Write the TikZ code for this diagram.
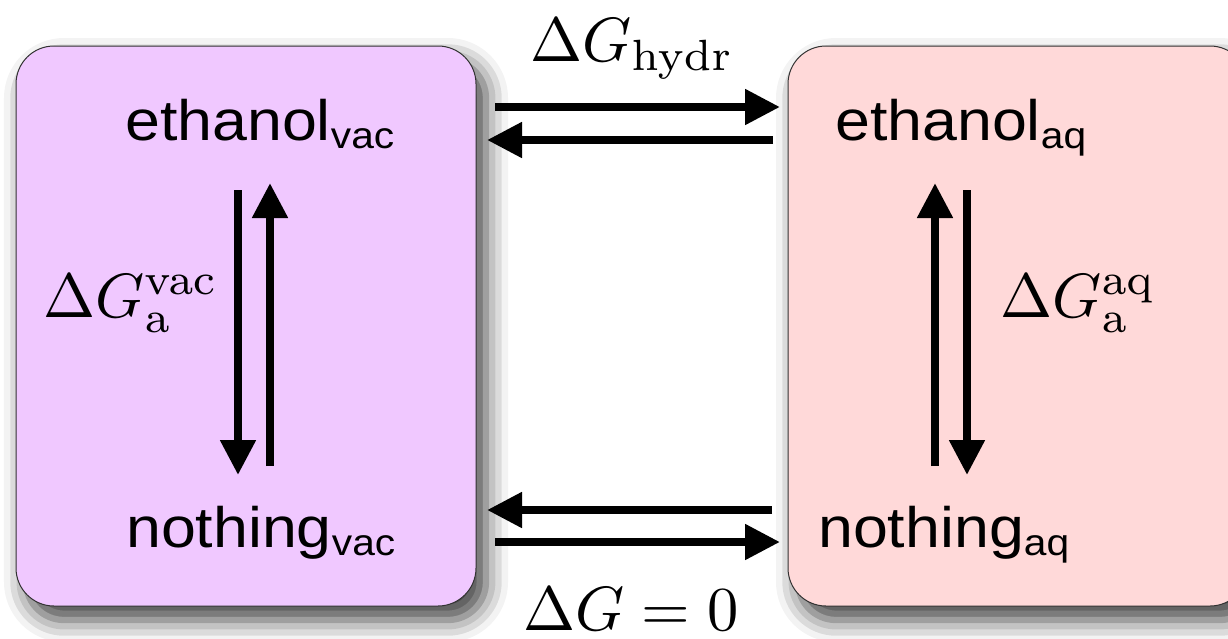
\documentclass[tikz,border=0pt]{standalone}
\usepackage[no-math]{fontspec}
\newfontfamily\lsans{Liberation Sans}
\usetikzlibrary{arrows.meta,shadows.blur}
\definecolor{vacfill}{RGB}{240,200,255}
\definecolor{aqfill}{RGB}{255,217,217}
\definecolor{boxline}{RGB}{50,50,50}
\newcommand\lowsub[1]{\raisebox{-8pt}{\fontsize{37}{40}\selectfont #1}}
\newcommand\widetext[1]{\scalebox{1.1}[1]{#1}}
\newcommand\bigmath[1]{\scalebox{6.25}{$#1$}}
\begin{document}
\begin{tikzpicture}[x=1pt,y=-1pt,
  panel/.style={draw=boxline, line width=1pt, rounded corners=38pt,
    minimum width=460pt, minimum height=560pt, inner sep=0pt,
    blur shadow={shadow xshift=10pt, shadow yshift=-14pt, shadow blur radius=22pt, shadow opacity=75}},
  lbl/.style={inner sep=0pt, anchor=base west, font=\lsans\fontsize{57}{60}\selectfont},
  mlbl/.style={inner sep=0pt, anchor=base west},
  arr/.style={line width=8pt, -{Triangle[length=35pt,width=34pt]}}]
\useasboundingbox (0,0) rectangle (1228,638);
\clip (0,0) rectangle (1228,638);
\node[panel, fill=vacfill] (L) at (246,326) {};
\node[panel, fill=aqfill] (R) at (1018,326) {};
% labels
\node[lbl] (ev) at (125,140) {\widetext{ethanol\lowsub{vac}}};
\node[lbl] (nv) at (126,547) {\widetext{nothing\lowsub{vac}}};
\node[lbl] (ea) at (835,140) {\widetext{ethanol\lowsub{aq}}};
\node[lbl] (na) at (818,547) {\widetext{nothing\lowsub{aq}}};
\node[mlbl] (gh) at (530,61) {\bigmath{\Delta G_{\mathrm{hydr}}}};
\node[mlbl] (gv) at (43,317) {\bigmath{\Delta G_{\mathrm{a}}^{\mathrm{vac}}}};
\node[mlbl] (ga) at (1000,317) {\bigmath{\Delta G_{\mathrm{a}}^{\mathrm{aq}}}};
\node[mlbl] (g0) at (523,630) {\bigmath{\Delta G=0}};
% arrow end points
\coordinate (t1s) at (495,107); \coordinate (t1e) at (780,107);
\coordinate (t2s) at (773,140); \coordinate (t2e) at (487,140);
\coordinate (b1s) at (772,510); \coordinate (b1e) at (487,510);
\coordinate (b2s) at (495,542); \coordinate (b2e) at (780,542);
\coordinate (l1s) at (238,190); \coordinate (l1e) at (238,475);
\coordinate (l2s) at (270,466); \coordinate (l2e) at (270,183);
\coordinate (r1s) at (935,466); \coordinate (r1e) at (935,183);
\coordinate (r2s) at (967,190); \coordinate (r2e) at (967,475);
\draw[arr] (t1s) -- (t1e);
\draw[arr] (t2s) -- (t2e);
\draw[arr] (b1s) -- (b1e);
\draw[arr] (b2s) -- (b2e);
\draw[arr] (l1s) -- (l1e);
\draw[arr] (l2s) -- (l2e);
\draw[arr] (r1s) -- (r1e);
\draw[arr] (r2s) -- (r2e);
\end{tikzpicture}
\end{document}
